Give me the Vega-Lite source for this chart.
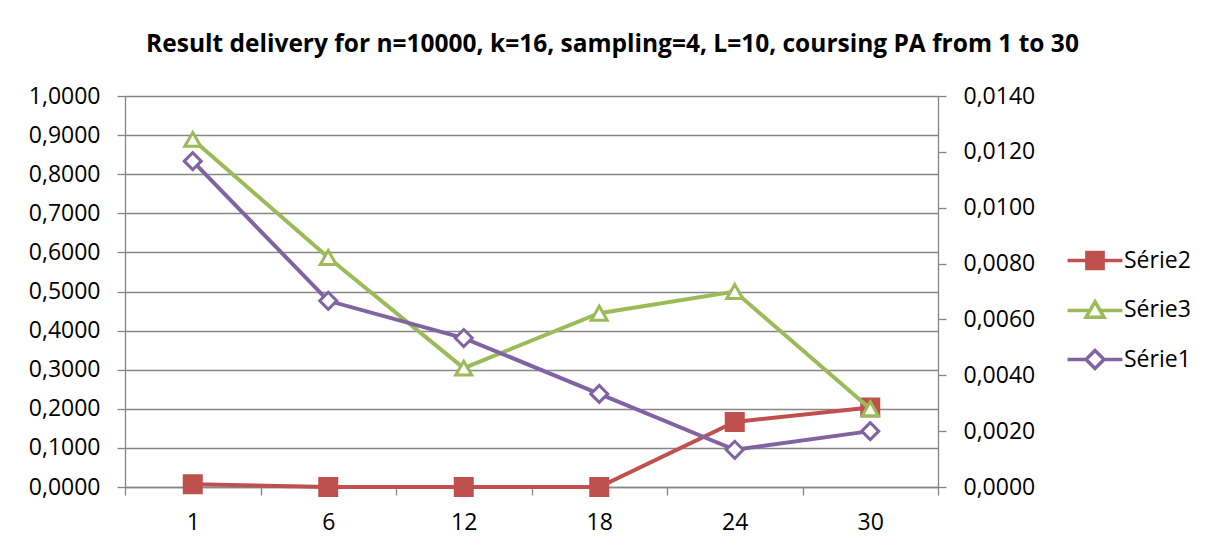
{
  "$schema": "https://vega.github.io/schema/vega-lite/v6.json",
  "width": 813,
  "height": 391,
  "autosize": "none",
  "padding": {"left": 125, "top": 96, "right": 276, "bottom": 62},
  "background": "white",
  "config": {
    "view": {"stroke": null},
    "locale": {"number": {"decimal": ",", "thousands": " ", "grouping": [3], "currency": ["", " €"]}}
  },
  "title": {
    "text": "Result delivery for n=10000, k=16, sampling=4, L=10, coursing PA from 1 to 30",
    "font": "Open Sans",
    "fontSize": 24.5,
    "fontWeight": "bold",
    "color": "black",
    "anchor": "middle",
    "frame": "group",
    "baseline": "alphabetic",
    "offset": 9,
    "dx": 81
  },
  "data": {
    "values": [
      {"x": 1, "series": "Série2", "value": 0.0001},
      {"x": 6, "series": "Série2", "value": 0.0},
      {"x": 12, "series": "Série2", "value": 0.0},
      {"x": 18, "series": "Série2", "value": 0.0},
      {"x": 24, "series": "Série2", "value": 0.00233},
      {"x": 30, "series": "Série2", "value": 0.00285},
      {"x": 1, "series": "Série3", "value": 0.8889},
      {"x": 6, "series": "Série3", "value": 0.587},
      {"x": 12, "series": "Série3", "value": 0.304},
      {"x": 18, "series": "Série3", "value": 0.4444},
      {"x": 24, "series": "Série3", "value": 0.5},
      {"x": 30, "series": "Série3", "value": 0.2},
      {"x": 1, "series": "Série1", "value": 0.8333},
      {"x": 6, "series": "Série1", "value": 0.4762},
      {"x": 12, "series": "Série1", "value": 0.381},
      {"x": 18, "series": "Série1", "value": 0.2381},
      {"x": 24, "series": "Série1", "value": 0.0952},
      {"x": 30, "series": "Série1", "value": 0.1429}
    ]
  },
  "encoding": {
    "x": {
      "field": "x",
      "type": "ordinal",
      "bandPosition": 0.5,
      "scale": {"type": "band", "paddingInner": 0, "paddingOuter": 0},
      "axis": {
        "title": null,
        "labelAngle": 0,
        "tickBand": "extent",
        "tickSize": 8,
        "tickWidth": 1.3,
        "labelPadding": 16,
        "domainColor": "#868686",
        "domainWidth": 1.3,
        "tickColor": "#868686",
        "grid": false,
        "labelFont": "Open Sans",
        "labelFontSize": 23,
        "labelColor": "black"
      }
    }
  },
  "layer": [
    {
      "transform": [{"filter": "datum.series === 'Série2'"}],
      "encoding": {
        "y": {
          "field": "value",
          "type": "quantitative",
          "scale": {"domain": [0, 0.014], "nice": false},
          "axis": {
            "orient": "right",
            "title": null,
            "values": [0, 0.002, 0.004, 0.006, 0.008, 0.01, 0.012, 0.014],
            "format": ".4f",
            "grid": false,
            "domainColor": "#868686",
            "domainWidth": 1.3,
            "tickColor": "#868686",
            "tickWidth": 1.3,
            "tickSize": 8,
            "labelPadding": 17,
            "labelFont": "Open Sans",
            "labelFontSize": 23,
            "labelColor": "black"
          }
        }
      },
      "layer": [
        {
          "mark": {"type": "line", "strokeWidth": 4},
          "encoding": {
            "color": {
              "field": "series",
              "type": "nominal",
              "scale": {"domain": ["Série2", "Série3", "Série1"], "range": ["#C0504D", "#9BBB59", "#8064A2"]},
              "legend": {
                "title": null,
                "orient": "none",
                "legendX": 958.5,
                "legendY": 153,
                "padding": 0,
                "labelFont": "Open Sans",
                "labelFontSize": 23,
                "labelColor": "black",
                "symbolSize": 324,
                "symbolStrokeWidth": 3.5,
                "labelOffset": 17.5,
                "rowPadding": 18,
                "encode": {
                  "symbols": {
                    "update": {
                      "shape": {"signal": "datum.value === 'Série2' ? 'M-3.05,0H-1M1,0H3.05M-0.9,-0.9H0.9V0.9H-0.9Z' : datum.value === 'Série3' ? 'M-3.05,0.1H-0.45M0.45,0.1H3.05M0,-0.87L1,0.87H-1Z' : 'M-3.05,0H-1M1,0H3.05M0,-1L1,0L0,1L-1,0Z'"},
                      "fill": {"signal": "datum.value === 'Série2' ? '#C0504D' : 'white'"},
                      "stroke": {"signal": "datum.value === 'Série2' ? '#C0504D' : datum.value === 'Série3' ? '#9BBB59' : '#8064A2'"},
                      "strokeWidth": {"value": 3.5},
                      "opacity": {"value": 1}
                    }
                  }
                }
              }
            }
          }
        },
        {
          "mark": {"type": "point", "shape": "square", "size": 324, "filled": true, "fill": "#C0504D", "stroke": "#C0504D", "strokeWidth": 2, "opacity": 1}
        }
      ]
    },
    {
      "transform": [{"filter": "datum.series !== 'Série2'"}],
      "encoding": {
        "y": {
          "field": "value",
          "type": "quantitative",
          "scale": {"domain": [0, 1], "nice": false},
          "axis": {
            "orient": "left",
            "title": null,
            "values": [0, 0.1, 0.2, 0.3, 0.4, 0.5, 0.6, 0.7, 0.8, 0.9, 1.0],
            "format": ".4f",
            "grid": true,
            "gridColor": "#868686",
            "gridWidth": 1.3,
            "domainColor": "#868686",
            "domainWidth": 1.3,
            "tickColor": "#868686",
            "tickWidth": 1.3,
            "tickSize": 8,
            "labelPadding": 17,
            "labelFont": "Open Sans",
            "labelFontSize": 23,
            "labelColor": "black"
          }
        }
      },
      "layer": [
        {
          "mark": {"type": "line", "strokeWidth": 4},
          "encoding": {
            "color": {"field": "series", "type": "nominal"}
          }
        },
        {
          "transform": [{"filter": "datum.series === 'Série3'"}],
          "mark": {"type": "point", "shape": "triangle-up", "size": 256, "filled": false, "fill": "white", "stroke": "#9BBB59", "strokeWidth": 3, "opacity": 1}
        },
        {
          "transform": [{"filter": "datum.series === 'Série1'"}],
          "mark": {"type": "point", "shape": "diamond", "size": 289, "filled": false, "fill": "white", "stroke": "#8064A2", "strokeWidth": 3, "opacity": 1}
        }
      ]
    }
  ],
  "resolve": {"scale": {"y": "independent"}}
}
